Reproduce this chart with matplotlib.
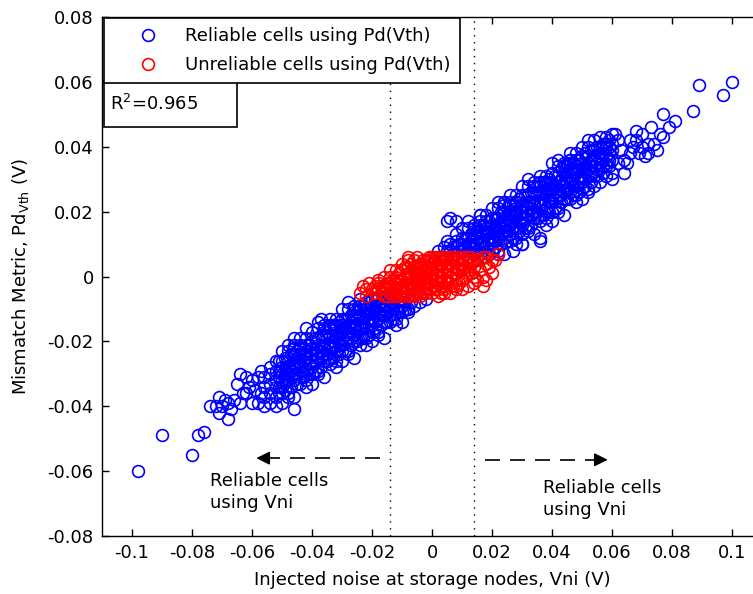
import numpy as np
import matplotlib.pyplot as plt
from matplotlib.patches import Rectangle

plt.rcParams['font.family'] = ['DejaVu Sans']

# values, in mV: (Vni, [Pd values at that Vni])
blue_cols = [
    (-56, [-40, -37, -34, -31]), (-54, [-39, -36, -33, -30, -28]),
    (-52, [-40, -37, -34, -32, -29, -26]), (-51, [-36, -34, -31, -29, -26]),
    (-50, [-39, -36, -34, -32, -30, -28, -26, -23]), (-49, [-35, -32, -30, -28, -25]),
    (-48, [-37, -36, -32, -30, -28, -26, -23, -21]), (-47, [-34, -31, -29, -27, -24]),
    (-46, [-37, -32, -30, -28, -27, -24, -22, -21]), (-45, [-33, -30, -28, -26, -23]),
    (-44, [-33, -31, -28, -27, -24, -22, -21, -19]), (-43, [-31, -29, -26, -24, -22]),
    (-42, [-34, -32, -29, -25, -24, -23, -21, -19]), (-41, [-30, -27, -25, -23, -21]),
    (-40, [-33, -30, -28, -26, -24, -22, -20, -17]), (-39, [-29, -26, -24, -22, -19]),
    (-38, [-30, -29, -25, -23, -21, -19, -16, -14]), (-37, [-28, -25, -23, -21, -18]),
    (-36, [-31, -26, -24, -22, -21, -18, -16, -15]), (-35, [-26, -24, -21, -19, -17]),
    (-34, [-27, -25, -22, -21, -18, -16, -15, -13]), (-33, [-25, -22, -20, -18, -15]),
    (-32, [-28, -26, -23, -19, -18, -17, -15, -13]), (-31, [-24, -21, -19, -17, -14]),
    (-30, [-26, -23, -21, -19, -17, -15, -13, -10]), (-29, [-23, -20, -18, -16, -13]),
    (-28, [-24, -23, -19, -17, -15, -13, -10, -8]), (-27, [-21, -19, -16, -14, -12]),
    (-26, [-25, -20, -18, -16, -15, -12, -10, -9]), (-25, [-20, -17, -15, -13, -11]),
    (-24, [-21, -19, -16, -15, -12, -10, -9, -7]), (-23, [-19, -16, -14, -12, -9]),
    (-22, [-21, -19, -16, -12, -11, -10, -8]), (-21, [-18, -15, -13, -11, -8]),
    (-20, [-20, -17, -15, -13, -11, -9, -7]), (-19, [-16, -14, -11, -9, -7]),
    (-18, [-18, -17, -13, -11, -9, -7]), (-17, [-15, -12, -10, -8]),
    (-16, [-19, -14, -12, -10, -9]), (-15, [-14, -11, -9, -7]),
    (-14, [-14, -12, -9, -8]), (-13, [-13, -10, -8]),
    (-12, [-15, -13, -10]), (-11, [-11, -9]),
    (-10, [-14, -11, -9, -7]), (-9, [-10, -8]),
    (-8, [-11, -10]), (-7, [-8]), (-6, [-9]), (-4, [-8]), (-2, [-7]),
    (2, [8]), (4, [9]), (5, [8]), (6, [8, 10]), (7, [7, 9]),
    (8, [7, 9, 11, 13]), (9, [8, 10]),
    (10, [8, 10, 12, 15]), (11, [7, 9, 12]),
    (12, [8, 10, 12, 15, 17]), (13, [9, 11, 13]),
    (14, [7, 9, 10, 13, 15, 16]), (15, [8, 10, 12, 14]),
    (16, [7, 10, 11, 14, 16, 17, 19]), (17, [9, 11, 13, 16]),
    (18, [9, 13, 14, 15, 17, 19]), (19, [7, 10, 12, 14, 17]),
    (20, [8, 10, 12, 14, 16, 18, 21]), (21, [9, 11, 14, 16, 18]),
    (22, [7, 8, 12, 14, 16, 18, 21, 23]), (23, [10, 13, 15, 17, 20]),
    (24, [7, 12, 14, 16, 17, 20, 22, 23]), (25, [11, 14, 16, 18, 21]),
    (26, [11, 13, 16, 17, 20, 22, 23, 25]), (27, [12, 15, 17, 19, 22]),
    (28, [10, 12, 15, 19, 20, 21, 23, 25]), (29, [14, 17, 19, 21, 24]),
    (30, [10, 13, 16, 18, 20, 22, 25, 28]), (31, [15, 18, 20, 22, 25]),
    (32, [14, 15, 19, 21, 23, 25, 28, 30]), (33, [16, 19, 21, 23, 26]),
    (34, [13, 18, 20, 22, 23, 26, 28, 29]), (35, [18, 20, 23, 25, 28]),
    (36, [17, 19, 22, 23, 26, 28, 29, 31]), (37, [19, 22, 24, 26, 29]),
    (38, [16, 18, 21, 25, 26, 27, 29, 31]), (39, [20, 23, 25, 27, 30]),
    (40, [17, 20, 23, 25, 27, 29, 32, 35]), (41, [21, 24, 26, 28, 31]),
    (42, [20, 21, 25, 27, 29, 31, 34, 36]), (43, [23, 25, 28, 30, 33]),
    (44, [19, 24, 26, 28, 29, 32, 34, 35]), (45, [24, 27, 29, 31, 34]),
    (46, [24, 26, 29, 30, 33, 35, 36, 38]), (47, [25, 28, 30, 32, 35]),
    (48, [23, 25, 28, 32, 33, 34, 36, 38]), (49, [26, 29, 31, 33, 36]),
    (50, [24, 27, 29, 31, 33, 35, 37, 40]), (51, [28, 30, 33, 35, 38]),
    (52, [26, 27, 31, 33, 35, 37, 40, 42]), (53, [29, 32, 34, 36, 39]),
    (54, [28, 31, 34, 36, 39, 42]), (55, [31, 33, 35, 37, 40]),
    (56, [29, 33, 35, 38, 40, 43]), (57, [32, 34, 36, 38, 41]),
    (58, [31, 34, 37, 40, 43]), (59, [34, 36, 38, 40, 42]),
    (60, [32, 36, 39, 41, 44]),
]

# scattered cells away from the main band, mV
blue_extra = [
    (-98, -60), (-90, -49), (-80, -55), (-78, -49), (-76, -48), (-74, -40),
    (-72, -40), (-71, -37), (-71, -42), (-70, -40), (-69, -38), (-68, -39),
    (-68, -44), (-67, -41), (-66, -38), (-65, -33), (-64, -30), (-64, -39),
    (-63, -36), (-62, -36), (-62, -31), (-61, -34), (-60, -32), (-60, -39),
    (-59, -35), (-58, -39), (-58, -31), (-57, -36), (-57, -29), (-46, -41),
    (-46, -19), (-42, -16), (-37, -13), (-8, -10),
    (5, 17), (8, 17), (6, 18), (5, 11), (16, 19), (24, 23), (28, 23), (32, 25),
    (27, 8), (30, 10), (36, 11), (36, 12),
    (45, 35), (46, 36), (58, 41), (60, 30), (61, 44), (62, 35), (62, 42),
    (63, 39), (64, 32), (64, 36), (65, 35), (66, 38), (66, 42), (67, 40),
    (68, 42), (68, 45), (69, 38), (70, 40), (70, 44), (71, 37), (72, 38),
    (72, 41), (73, 46), (74, 41), (75, 39), (76, 44), (77, 43), (77, 50),
    (79, 46), (81, 48), (87, 51), (89, 59), (97, 56), (100, 60),
]

red_cols = [
    (-24, [-5]), (-23, [-3]), (-22, [-6, -4]), (-21, [-2]), (-20, [-4]),
    (-19, [-5, -3]), (-18, [-4, -2, -1]), (-17, [-5, -3]), (-16, [-6, -4, -3, 0]),
    (-15, [-6, -4, -2]), (-14, [-5, -3, -2, 0, 2]), (-13, [-6, -3, -1]),
    (-12, [-6, -5, -4, -2, 0, 2]), (-11, [-6, -4, -1, 1]),
    (-10, [-6, -5, -3, -1, 2, 4]), (-9, [-5, -3, 0, 3]),
    (-8, [-6, -4, -2, 0, 1, 3, 5, 6]), (-7, [-6, -4, -2, 1, 4]),
    (-6, [-6, -5, -4, -3, -1, 1, 3, 5]), (-5, [-5, -3, -1, 1, 3, 6]),
    (-4, [-6, -5, -3, 0, 1, 3, 4]), (-3, [-5, -2, 0, 2, 4, 5]),
    (-2, [-5, -4, -2, 0, 2, 3, 5]), (-1, [-4, -2, 0, 3, 5, 6]),
    (0, [-5, -3, -1, 1, 2, 4, 6]), (1, [-4, -3, -1, 1, 3, 5, 6]),
    (2, [-6, -4, -2, 0, 2, 4, 6]), (3, [-5, -2, 0, 2, 4, 5, 6]),
    (4, [-5, -4, -3, -1, 1, 3, 5, 6]), (5, [-2, -1, 2, 4, 6]),
    (6, [-5, -2, 0, 2, 4, 6]), (7, [-3, 1, 3, 5, 6]),
    (8, [-4, -3, -1, 1, 3, 5]), (9, [-2, 2, 4, 5, 6]),
    (10, [-4, -1, 2, 4, 6]), (11, [0, 3, 5]), (12, [-3, 1, 2, 5, 6]),
    (13, [1, 4, 6]), (14, [-2, 0, 3, 5]), (15, [-1, 5]), (16, [2, 5]),
    (17, [-3, 0, 6]), (18, [-1, 4, 6]), (19, [3]), (20, [1, 5]), (21, [5]),
    (22, [7]),
]

vni_limit = 0.014
xtick_vals = [-0.1, -0.08, -0.06, -0.04, -0.02, 0, 0.02, 0.04, 0.06, 0.08, 0.1]
xtick_labels = ['-0.1', '-0.08', '-0.06', '-0.04', '-0.02', '0', '0.02', '0.04', '0.06', '0.08', '0.1']
ytick_vals = [-0.08, -0.06, -0.04, -0.02, 0, 0.02, 0.04, 0.06, 0.08]
ytick_labels = ['-0.08', '-0.06', '-0.04', '-0.02', '0', '0.02', '0.04', '0.06', '0.08']


def expand(cols):
    xs = []
    ys = []
    for x, vals in cols:
        for y in vals:
            xs.append(x)
            ys.append(y)
    return np.array(xs) / 1000.0, np.array(ys) / 1000.0


bx, by = expand(blue_cols)
ex = np.array([p[0] for p in blue_extra]) / 1000.0
ey = np.array([p[1] for p in blue_extra]) / 1000.0
bx = np.concatenate([bx, ex])
by = np.concatenate([by, ey])
rx, ry = expand(red_cols)

fs = 13
fig = plt.figure(figsize=(7.53, 5.94), dpi=100)
ax = fig.add_axes([102 / 753, 58 / 594, 660 / 753, 519 / 594])

ax.plot(bx, by, 'o', mfc='none', mec=(0, 0, 1), ms=8.5, mew=1.2, linestyle='none',
        label='Reliable cells using Pd(Vth)')
ax.plot(rx, ry, 'o', mfc='none', mec=(1, 0, 0), ms=8.5, mew=1.2, linestyle='none',
        label='Unreliable cells using Pd(Vth)')

ax.axvline(-vni_limit, color='k', lw=1, dashes=(1, 4), zorder=1)
ax.axvline(vni_limit, color='k', lw=1, dashes=(1, 4), zorder=1)

# dashed arrows
ax.plot([-0.0175, -0.054], [-0.056, -0.056], color='k', lw=1.2, dashes=(9, 6))
ax.annotate('', xy=(-0.0595, -0.056), xytext=(-0.0535, -0.056),
            arrowprops=dict(arrowstyle='-|>', color='k', lw=1.2, mutation_scale=20))
ax.plot([0.0175, 0.054], [-0.0565, -0.0565], color='k', lw=1.2, dashes=(9, 6))
ax.annotate('', xy=(0.0595, -0.0565), xytext=(0.0535, -0.0565),
            arrowprops=dict(arrowstyle='-|>', color='k', lw=1.2, mutation_scale=20))

ax.text(-0.074, -0.0603, 'Reliable cells\nusing Vni', fontsize=fs, va='top', ha='left',
        linespacing=1.3)
ax.text(0.037, -0.0625, 'Reliable cells\nusing Vni', fontsize=fs, va='top', ha='left',
        linespacing=1.3)

ax.set_xlim(-0.11, 0.11)
ax.set_ylim(-0.08, 0.08)
ax.set_xticks(xtick_vals)
ax.set_xticklabels(xtick_labels)
ax.set_yticks(ytick_vals)
ax.set_yticklabels(ytick_labels)
ax.tick_params(direction='in', top=True, right=True, length=5, width=1, labelsize=fs,
               pad=6)
for s in ax.spines.values():
    s.set_linewidth(1)

ax.set_xlabel('Injected noise at storage nodes, Vni (V)', fontsize=fs, labelpad=6)
ax.set_ylabel('Mismatch Metric, Pd$_{\\mathrm{Vth}}$ (V)', fontsize=fs, labelpad=12)

leg = ax.legend(loc='upper left', bbox_to_anchor=(0.003, 0.998), borderaxespad=0,
                fancybox=False, edgecolor='k', framealpha=1, numpoints=1,
                fontsize=fs, handlelength=3.9, handletextpad=0.1, borderpad=0.5,
                labelspacing=0.6)
leg.get_frame().set_linewidth(1.2)
leg.set_zorder(5)

# R^2 box
ax.add_patch(Rectangle((0.003, 0.788), 0.2015, 0.089, transform=ax.transAxes,
                       facecolor='white', edgecolor='k', lw=1.2, zorder=5))
ax.text(0.012, 0.8325, 'R$^2$=0.965', transform=ax.transAxes, fontsize=fs,
        va='center', ha='left', zorder=6)

fig.savefig('out.png', dpi=100)
